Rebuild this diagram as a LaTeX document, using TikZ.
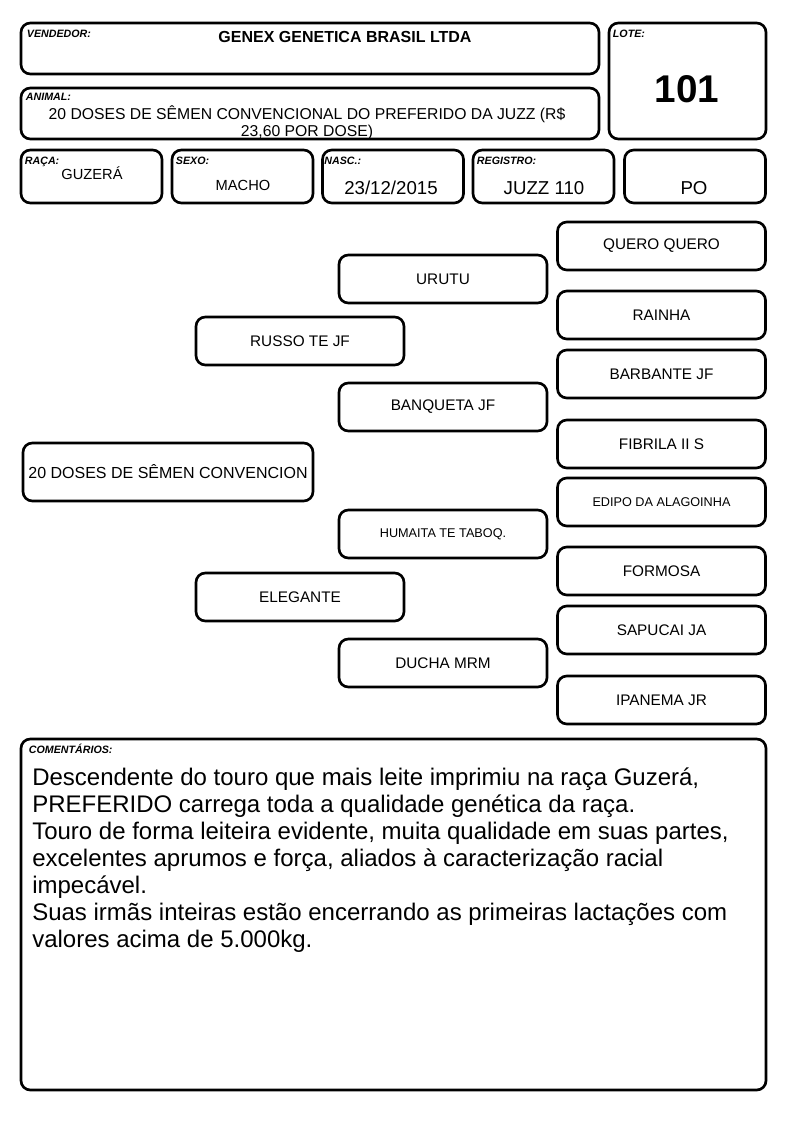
\documentclass[tikz,border=0pt]{standalone}
\usepackage{fontspec}
\setmainfont{Liberation Sans}
\usepackage{tikz}
\usetikzlibrary{positioning}
\tikzset{
  box/.style={rectangle, draw=black, line width=2pt,
    rounded corners=7pt, inner sep=0pt, align=center},
  pbox/.style 2 args={box, minimum width=#1*0.75pt, minimum height=#2*0.75pt},
  pedbox/.style={pbox={208}{48}, font=\fontsize{11.5}{13}\selectfont},
  smallped/.style={pedbox, font=\fontsize{9.5}{11}\selectfont},
  tag/.style={anchor=base west, inner sep=0pt,
    font=\fontsize{8}{9}\selectfont\bfseries\itshape},
  field/.style={anchor=base, inner sep=0pt, font=\fontsize{14}{16}\selectfont}
}

\begin{document}
\begin{tikzpicture}[x=0.75pt, y=-0.75pt]
  \useasboundingbox (0,0) rectangle (794,1123);

  % Header boxes
  \node[pbox={578}{51}] (vendedor) at (310,48.5) {};
  \node[pbox={157}{116}] (lote) at (687.5,81) {};
  \node[pbox={578}{51}] (animal) at (310,113.5) {};
  \node[pbox={141}{53}] (raca) at (91.5,176.5) {};
  \node[pbox={141}{53}] (sexo) at (242.5,176.5) {};
  \node[pbox={141}{53}] (nasc) at (393,176.5) {};
  \node[pbox={141}{53}] (registro) at (543.5,176.5) {};
  \node[pbox={141}{53}] (po) at (695,176.5) {};

  % Field names
  \node[tag] at ([shift={(7,16)}]vendedor.north west) {VENDEDOR:};
  \node[tag] at ([shift={(5,16)}]lote.north west) {LOTE:};
  \node[tag] at ([shift={(6,14)}]animal.north west) {ANIMAL:};
  \node[tag] at ([shift={(5,16)}]raca.north west) {RAÇA:};
  \node[tag] at ([shift={(5,16)}]sexo.north west) {SEXO:};
  \node[tag] at ([shift={(3,16)}]nasc.north west) {NASC.:};
  \node[tag] at ([shift={(5,16)}]registro.north west) {REGISTRO:};

  % Field values
  \node[field, font=\fontsize{12}{14}\selectfont\bfseries] (vendedorTxt) at (345,43) {GENEX GENETICA BRASIL LTDA};
  \node[field, font=\fontsize{29}{32}\selectfont\bfseries] (loteTxt) at (687,103) {101};
  \node[field, font=\fontsize{11.8}{12.75}\selectfont, align=center] (animalTxt) at (307,137)
    {20 DOSES DE SÊMEN CONVENCIONAL DO PREFERIDO DA JUZZ (R\$\\23,60 POR DOSE)};
  \node[field, font=\fontsize{11}{13}\selectfont] (racaTxt) at (92,180) {GUZERÁ};
  \node[field, font=\fontsize{11}{13}\selectfont] (sexoTxt) at (243,191) {MACHO};
  \node[field] (nascTxt) at (391,195) {23/12/2015};
  \node[field] (registroTxt) at (544,195) {JUZZ 110};
  \node[field] (poTxt) at (694,195) {PO};

  % Pedigree
  \node[pbox={290}{58}, font=\fontsize{12}{14}\selectfont] (main) at (168,472) {20 DOSES DE SÊMEN CONVENCION};
  \node[pedbox] (p) at (300,341) {RUSSO TE JF};
  \node[pedbox] (m) at (300,597) {ELEGANTE};
  \node[pedbox] (pp) at (443,279) {URUTU};
  \node[pedbox] (pm) at (443,407) {BANQUETA JF};
  \node[smallped] (mp) at (443,534) {HUMAITA TE TABOQ.};
  \node[pedbox] (mm) at (443,663) {DUCHA MRM};
  \node[pedbox] (ppp) at (661.5,246) {QUERO QUERO};
  \node[pedbox] (ppm) at (661.5,315) {RAINHA};
  \node[pedbox] (pmp) at (661.5,374) {BARBANTE JF};
  \node[pedbox] (pmm) at (661.5,444) {FIBRILA II S};
  \node[smallped] (mpp) at (661.5,502) {EDIPO DA ALAGOINHA};
  \node[pedbox] (mpm) at (661.5,571) {FORMOSA};
  \node[pedbox] (mmp) at (661.5,630) {SAPUCAI JA};
  \node[pedbox] (mmm) at (661.5,700) {IPANEMA JR};

  % Comments
  \node[pbox={745}{351}] (comentarios) at (393.5,914.5) {};
  \node[tag] at ([shift={(9,16)}]comentarios.north west) {COMENTÁRIOS:};
  \node[anchor=base west, inner sep=0pt, align=left, font=\fontsize{18}{20.25}\selectfont] (comentTxt) at (32,947)
    {Descendente do touro que mais leite imprimiu na raça Guzerá,\\
     PREFERIDO carrega toda a qualidade genética da raça.\\
     Touro de forma leiteira evidente, muita qualidade em suas partes,\\
     excelentes aprumos e força, aliados à caracterização racial\\
     impecável.\\
     Suas irmãs inteiras estão encerrando as primeiras lactações com\\
     valores acima de 5.000kg.};
\end{tikzpicture}
\end{document}
